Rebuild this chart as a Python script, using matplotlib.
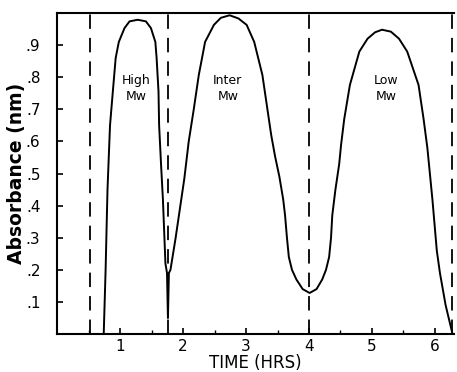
import numpy as np
import matplotlib.pyplot as plt

# absorbance trace
time_hrs = [0.74, 0.77, 0.80, 0.84, 0.885, 0.93, 0.98, 1.07, 1.15, 1.28, 1.41, 1.49,
            1.56, 1.58, 1.61, 1.62, 1.65, 1.68, 1.72, 1.745, 1.76, 1.775, 1.80, 1.88,
            2.02, 2.09, 2.17, 2.25, 2.35, 2.49, 2.60, 2.74, 2.88, 3.01, 3.13, 3.26,
            3.34, 3.40, 3.46, 3.53, 3.59, 3.62, 3.65, 3.68, 3.73, 3.80, 3.90, 4.01,
            4.12, 4.21, 4.27, 4.32, 4.35, 4.37, 4.42, 4.48, 4.51, 4.56, 4.65, 4.80,
            4.93, 5.05, 5.16, 5.30, 5.43, 5.56, 5.74, 5.82, 5.88, 5.96, 6.03, 6.08,
            6.17, 6.28]
absorbance = [0.00, 0.20, 0.45, 0.65, 0.756, 0.86, 0.91, 0.953, 0.974, 0.979, 0.974, 0.953,
              0.91, 0.86, 0.756, 0.65, 0.53, 0.42, 0.22, 0.19, 0.05, 0.19, 0.20, 0.297,
              0.484, 0.60, 0.70, 0.807, 0.91, 0.963, 0.985, 0.993, 0.983, 0.963, 0.91, 0.807,
              0.70, 0.62, 0.555, 0.49, 0.42, 0.37, 0.30, 0.24, 0.20, 0.17, 0.14, 0.128,
              0.14, 0.17, 0.20, 0.24, 0.30, 0.37, 0.45, 0.53, 0.59, 0.67, 0.776, 0.88,
              0.92, 0.940, 0.948, 0.942, 0.92, 0.88, 0.776, 0.67, 0.58, 0.42, 0.26, 0.19,
              0.09, 0.00]
cut_times = [0.53, 1.76, 4.0, 6.27]
fractions = ["High\nMw", "Inter\nMw", "Low\nMw"]
frac_x = [1.25, 2.71, 5.23]
y_ticks = [0.1, 0.2, 0.3, 0.4, 0.5, 0.6, 0.7, 0.8, 0.9]
y_labels = [".1", ".2", ".3", ".4", ".5", ".6", ".7", ".8", ".9"]
x_ticks = [1, 2, 3, 4, 5, 6]


def main():
    plt.rcParams['font.family'] = ['DejaVu Sans']
    fig = plt.figure(figsize=(4.57, 3.72), dpi=100)
    ax = fig.add_axes([0.125, 0.102, 0.868, 0.863])

    ax.plot(time_hrs, absorbance, color='black', lw=1.4)
    for t in cut_times:
        ax.axvline(t, color='black', lw=1.3, dashes=(8, 5))
    for lab, x in zip(fractions, frac_x):
        ax.text(x, 0.765, lab, ha='center', va='center', fontsize=9, linespacing=1.35)

    ax.set_xlim(0, 6.3)
    ax.set_ylim(0, 1.0)
    ax.set_xticks(x_ticks)
    ax.set_xticks(np.arange(0.5, 6.3, 0.5), minor=True)
    ax.set_yticks(y_ticks)
    ax.set_yticklabels(y_labels)
    ax.tick_params(direction='in', length=4, width=1.2, labelsize=11)
    ax.tick_params(which='minor', direction='in', length=3, width=1)
    ax.tick_params(axis='y', pad=12)
    ax.spines['right'].set_visible(False)
    for s in ['left', 'bottom', 'top']:
        ax.spines[s].set_linewidth(1.5)

    ax.set_xlabel("TIME (HRS)", fontsize=12, labelpad=0)
    ax.set_ylabel("Absorbance (nm)", fontsize=13.5, fontweight='bold', labelpad=0)
    fig.savefig("out.png", dpi=100)


if __name__ == '__main__':
    main()
